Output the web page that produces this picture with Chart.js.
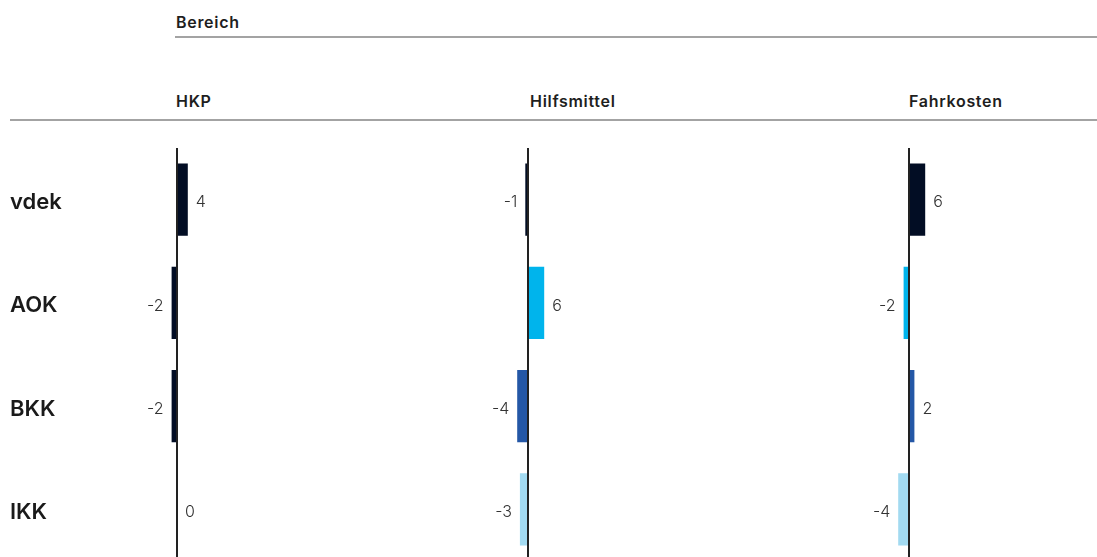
<!DOCTYPE html>
<html lang="de">
<head>
<meta charset="utf-8">
<script src="https://cdn.jsdelivr.net/npm/chart.js@4.4.1/dist/chart.umd.min.js"></script>
<style>
    html, body {
        margin: 0;
        padding: 0;
        background: #fff;
        overflow: hidden;
        width: 1097px;
        height: 557px;
        font-family: Inter, "Liberation Sans", sans-serif;
    }
    .head {
        position: absolute;
        font-size: 16px;
        font-weight: 600;
        line-height: 16px;
        letter-spacing: 0.7px;
        color: #1e1e1e;
        white-space: nowrap;
    }
    .rule {
        position: absolute;
        height: 2px;
        background: #a3a3a3;
    }
    canvas {
        position: absolute;
        top: 148px;
    }
</style>
</head>
<body>
<div class="head" style="left:176px; top:14px;">Bereich</div>
<div class="rule" style="left:175px; top:36px; width:922px;"></div>

<div class="head" id="head0" style="top:93px;"></div>
<div class="head" id="head1" style="top:93px;"></div>
<div class="head" id="head2" style="top:93px;"></div>
<div class="rule" style="left:10px; top:119px; width:1087px;"></div>

<canvas id="panel0" width="450" height="413" style="left:0px;"></canvas>
<canvas id="panel1" width="381" height="413" style="left:450px;"></canvas>
<canvas id="panel2" width="266" height="413" style="left:831px;"></canvas>

<script>
const categories = ['vdek', 'AOK', 'BKK', 'IKK'];
const panelNames = ['HKP', 'Hilfsmittel', 'Fahrkosten'];

const hkpValues = [4, -2, -2, 0];
const hilfsmittelValues = [-1, 6, -4, -3];
const fahrkostenValues = [6, -2, 2, -4];

const NAVY = '#020d24';
const CYAN = '#00b4ec';
const BLUE = '#2457a6';
const LIGHT = '#a2daf1';

const hkpColors = [NAVY, NAVY, NAVY, LIGHT];
const defaultColors = [NAVY, CYAN, BLUE, LIGHT];

const PX_PER_UNIT = 2.7;
const ZERO_OFFSET = 78;      // px from the plot's left edge to the zero line
const LABEL_COLUMN = 99;

// vertical zero line across the whole panel
const zeroLine = {
    id: 'zeroLine',
    afterDatasetsDraw(chart) {
        const ctx = chart.ctx;
        const x = chart.scales.x.getPixelForValue(0);
        ctx.save();
        ctx.strokeStyle = '#222';
        ctx.lineWidth = 2;
        ctx.beginPath();
        ctx.moveTo(x, 0);
        ctx.lineTo(x, chart.height);
        ctx.stroke();
        ctx.restore();
    }
};

// number next to the end of every bar
const valueLabels = {
    id: 'valueLabels',
    afterDatasetsDraw(chart) {
        const ctx = chart.ctx;
        const ds = chart.data.datasets[0];
        const meta = chart.getDatasetMeta(0);
        ctx.save();
        ctx.font = '300 16px Inter, "Liberation Sans", sans-serif';
        ctx.fillStyle = '#333';
        ctx.textBaseline = 'middle';
        meta.data.forEach((bar, i) => {
            const v = ds.data[i];
            if (v < 0) {
                ctx.textAlign = 'right';
                ctx.fillText(String(v), bar.x - 8, bar.y + 3);
            } else {
                ctx.textAlign = 'left';
                ctx.fillText(String(v), bar.x + 8, bar.y + 3);
            }
        });
        ctx.restore();
    }
};

// row names in the left column, one per category band
const rowLabels = {
    id: 'rowLabels',
    afterDraw(chart) {
        const ctx = chart.ctx;
        const y = chart.scales.y;
        ctx.save();
        ctx.font = '600 22px Inter, "Liberation Sans", sans-serif';
        ctx.fillStyle = '#1a1a1a';
        ctx.textAlign = 'left';
        ctx.textBaseline = 'middle';
        chart.data.labels.forEach((label, i) => {
            ctx.fillText(label, 10, y.getPixelForValue(i) + 3);
        });
        ctx.restore();
    }
};

function makePanel(canvasId, values, colors, withRowLabels) {
    const canvas = document.getElementById(canvasId);
    const padLeft = withRowLabels ? LABEL_COLUMN : 0;
    const areaWidth = canvas.width - padLeft;
    const xMin = -ZERO_OFFSET / PX_PER_UNIT;
    const plugins = [zeroLine, valueLabels];
    if (withRowLabels) {
        plugins.push(rowLabels);
    }

    return new Chart(canvas, {
        type: 'bar',
        data: {
            labels: categories,
            datasets: [{
                data: values,
                backgroundColor: colors,
                borderWidth: 0,
                categoryPercentage: 1,
                barPercentage: 0.7
            }]
        },
        options: {
            indexAxis: 'y',
            responsive: false,
            animation: false,
            layout: { padding: { left: padLeft, right: 0, top: 0, bottom: 0 } },
            plugins: {
                legend: { display: false },
                tooltip: { enabled: false }
            },
            scales: {
                x: {
                    display: false,
                    min: xMin,
                    max: xMin + areaWidth / PX_PER_UNIT
                },
                y: {
                    display: false
                }
            }
        },
        plugins: plugins
    });
}

const charts = [
    makePanel('panel0', hkpValues, hkpColors, true),
    makePanel('panel1', hilfsmittelValues, defaultColors, false),
    makePanel('panel2', fahrkostenValues, defaultColors, false)
];

// column headers sit on each panel's zero line
charts.forEach((chart, i) => {
    const el = document.getElementById('head' + i);
    const offset = [0, 3, 1][i];
    el.textContent = panelNames[i];
    el.style.left = (chart.canvas.offsetLeft + chart.scales.x.getPixelForValue(0) - 1 + offset) + 'px';
});
</script>
</body>
</html>
